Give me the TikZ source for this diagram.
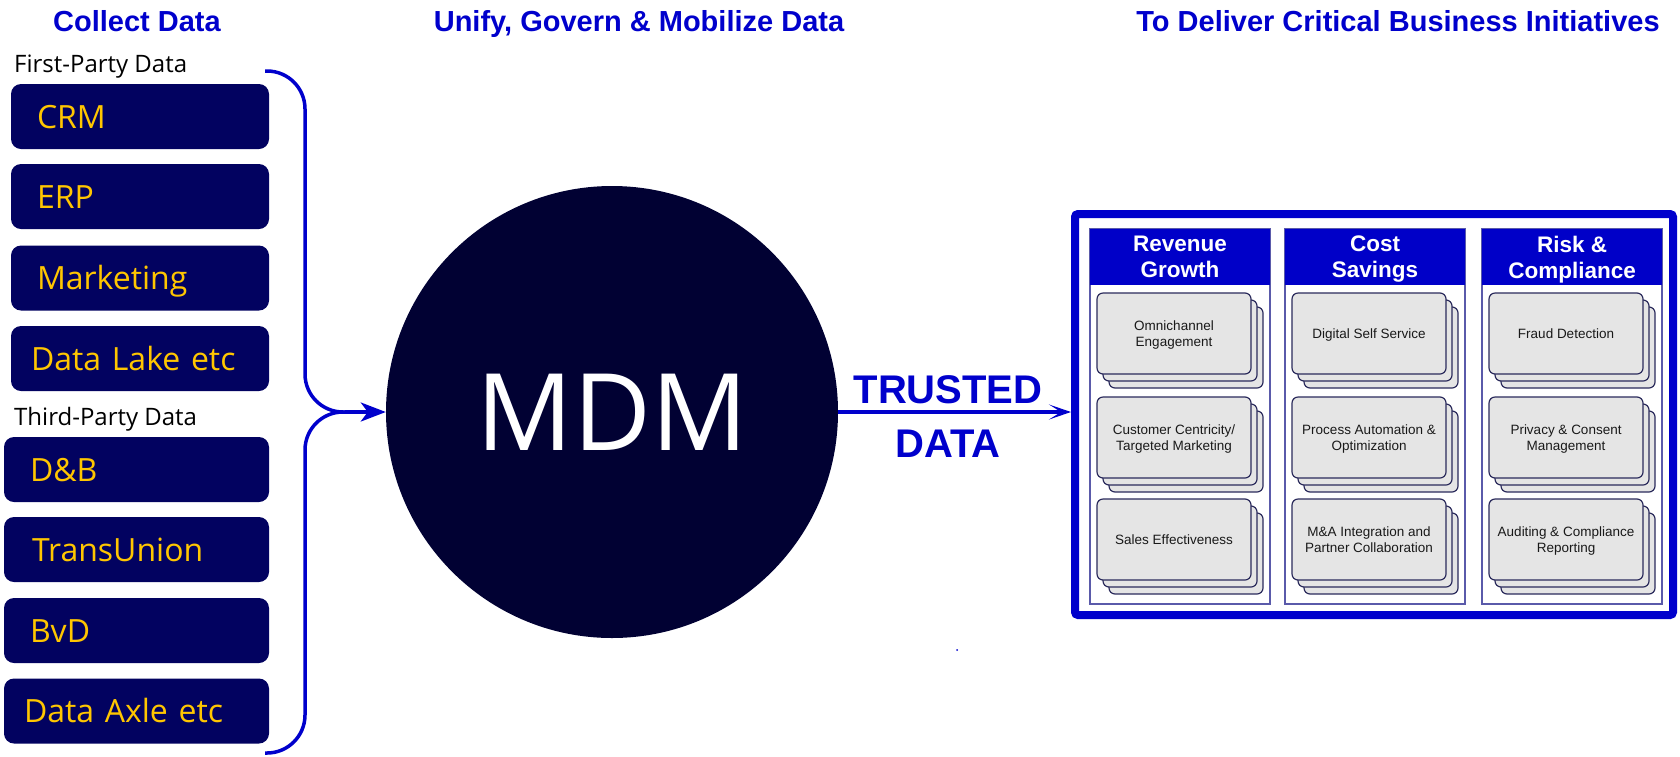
\documentclass[tikz,border=0pt]{standalone}
\usepackage{fontspec}
\setmainfont{Liberation Sans}
\newfontfamily\opensans{Open Sans}
\usetikzlibrary{arrows.meta}
\definecolor{tblue}{RGB}{0,0,204}
\definecolor{hblue}{RGB}{0,0,200}
\definecolor{srcnavy}{RGB}{2,2,96}
\definecolor{mdmcol}{RGB}{1,1,51}
\definecolor{gold}{RGB}{255,198,0}
\definecolor{cardgray}{RGB}{229,229,229}
\definecolor{cardline}{RGB}{43,43,92}
\definecolor{colline}{RGB}{90,90,170}
\definecolor{cardtext}{RGB}{25,25,25}
\newcommand\mkcard[4]{%
  \node[card] (#1c) at ({#2+12},{#3+14}) {};
  \node[card] (#1b) at ({#2+6},{#3+7}) {};
  \node[card, cardtxt] (#1) at (#2,#3) {#4};
}
\begin{document}
\begin{tikzpicture}[x=1pt,y=-1pt,
  ttl/.style={font=\fontsize{29}{34}\selectfont\bfseries, text=tblue, inner sep=0pt, anchor=base},
  grplbl/.style={font=\opensans\fontsize{24}{28}\selectfont, text=black, inner sep=0pt, anchor=base west},
  srcbox/.style={fill=srcnavy, rounded corners=10pt, minimum height=65pt, inner ysep=0pt,
    text=gold, font=\opensans\fontsize{32}{38}\selectfont, align=left, text height=23pt, text depth=0pt},
  bline/.style={draw=tblue, line width=3.5pt},
  tdata/.style={font=\fontsize{40}{46}\selectfont\bfseries, text=tblue, inner sep=0pt, anchor=base},
  colbox/.style={draw=colline, line width=1.2pt, fill=white, minimum width=180pt, minimum height=375pt, inner sep=0pt},
  hdrbox/.style={fill=hblue, minimum width=180pt, minimum height=56pt, inner sep=0pt, text=white,
    font=\fontsize{22.5}{26}\selectfont\bfseries, align=center, text depth=0pt},
  card/.style={fill=cardgray, draw=cardline, line width=1.2pt, rounded corners=6pt,
    minimum width=154pt, minimum height=81pt, inner sep=0pt},
  cardtxt/.style={text=cardtext, font=\fontsize{13.5}{16}\selectfont, align=center, text depth=0pt}
]
\useasboundingbox (0,0) rectangle (1680,756);

% titles
\node[ttl] (t1) at (137,31) {Collect Data};
\node[ttl] (t2) at (639,31) {Unify, Govern \& Mobilize Data};
\node[ttl] (t3) at (1398,31) {To Deliver Critical Business Initiatives};

% group labels
\node[grplbl] (fp) at (14,72) {First-Party Data};
\node[grplbl] (tp) at (14,425) {Third-Party Data};

% source boxes
\node[srcbox, inner xsep=26pt, text width=206pt] (crm) at (140,116.5) {CRM};
\node[srcbox, inner xsep=26pt, text width=206pt] (erp) at (140,196.5) {ERP};
\node[srcbox, inner xsep=26pt, text width=206pt] (mkt) at (140,278) {Marketing};
\node[srcbox, inner xsep=20pt, text width=218pt] (dl) at (140,358.5) {Data Lake etc};
\node[srcbox, inner xsep=26pt, text width=213pt] (db) at (136.5,469.5) {D\&B};
\node[srcbox, inner xsep=28pt, text width=209pt] (tu) at (136.5,549.5) {TransUnion};
\node[srcbox, inner xsep=26pt, text width=213pt] (bvd) at (136.5,630.5) {BvD};
\node[srcbox, inner xsep=20pt, text width=225pt] (dax) at (136.5,711) {Data Axle etc};

% MDM circle
\node[circle, fill=mdmcol, minimum size=452pt, inner sep=0pt, text=white,
  font=\opensans\fontsize{107}{120}\selectfont] (mdm) at (612,412) {MDM};

% brace and arrow into MDM
\coordinate (j) at (345,412);
\coordinate (btop) at (265,71);
\coordinate (bbot) at (265,753);
\draw[bline, rounded corners=38pt] (btop) -| (305,412) -- (j);
\draw[bline, rounded corners=38pt] (bbot) -| (305,412) -- (j);
\draw[bline, -{Stealth[length=25pt,width=19pt,inset=7pt]}] (j) -- (mdm.west);

% right frame
\node[draw=tblue, line width=8pt, rounded corners=3pt, minimum width=598pt, minimum height=401pt, inner sep=0pt] (frame) at (1374,414.5) {};

% trusted data arrow
\draw[bline, -{Stealth[length=22pt,width=15pt,inset=12pt]}] (mdm.east) -- (mdm.east -| frame.west);
\node[tdata] (tr) at (948,403) {TRUSTED};
\node[tdata] (da) at (948,457) {DATA};

% columns
\node[colbox] (colA) at (1180,416.5) {};
\node[hdrbox] (hA) at (1180,257) {Revenue\\Growth};
\mkcard{a1}{1174}{333.5}{Omnichannel\\Engagement}
\mkcard{a2}{1174}{437.5}{Customer Centricity/\\Targeted Marketing}
\mkcard{a3}{1174}{539.5}{Sales Effectiveness}

\node[colbox] (colB) at (1375,416.5) {};
\node[hdrbox] (hB) at (1375,257) {Cost\\Savings};
\mkcard{b1}{1369}{333.5}{Digital Self Service}
\mkcard{b2}{1369}{437.5}{Process Automation \&\\Optimization}
\mkcard{b3}{1369}{539.5}{M\&A Integration and\\Partner Collaboration}

\node[colbox] (colC) at (1572,416.5) {};
\node[hdrbox] (hC) at (1572,257) {Risk \&\\Compliance};
\mkcard{c1}{1566}{333.5}{Fraud Detection}
\mkcard{c2}{1566}{437.5}{Privacy \& Consent\\Management}
\mkcard{c3}{1566}{539.5}{Auditing \& Compliance\\Reporting}

% tiny dot
\fill[tblue] (957,650) circle (1pt);
\end{tikzpicture}
\end{document}
